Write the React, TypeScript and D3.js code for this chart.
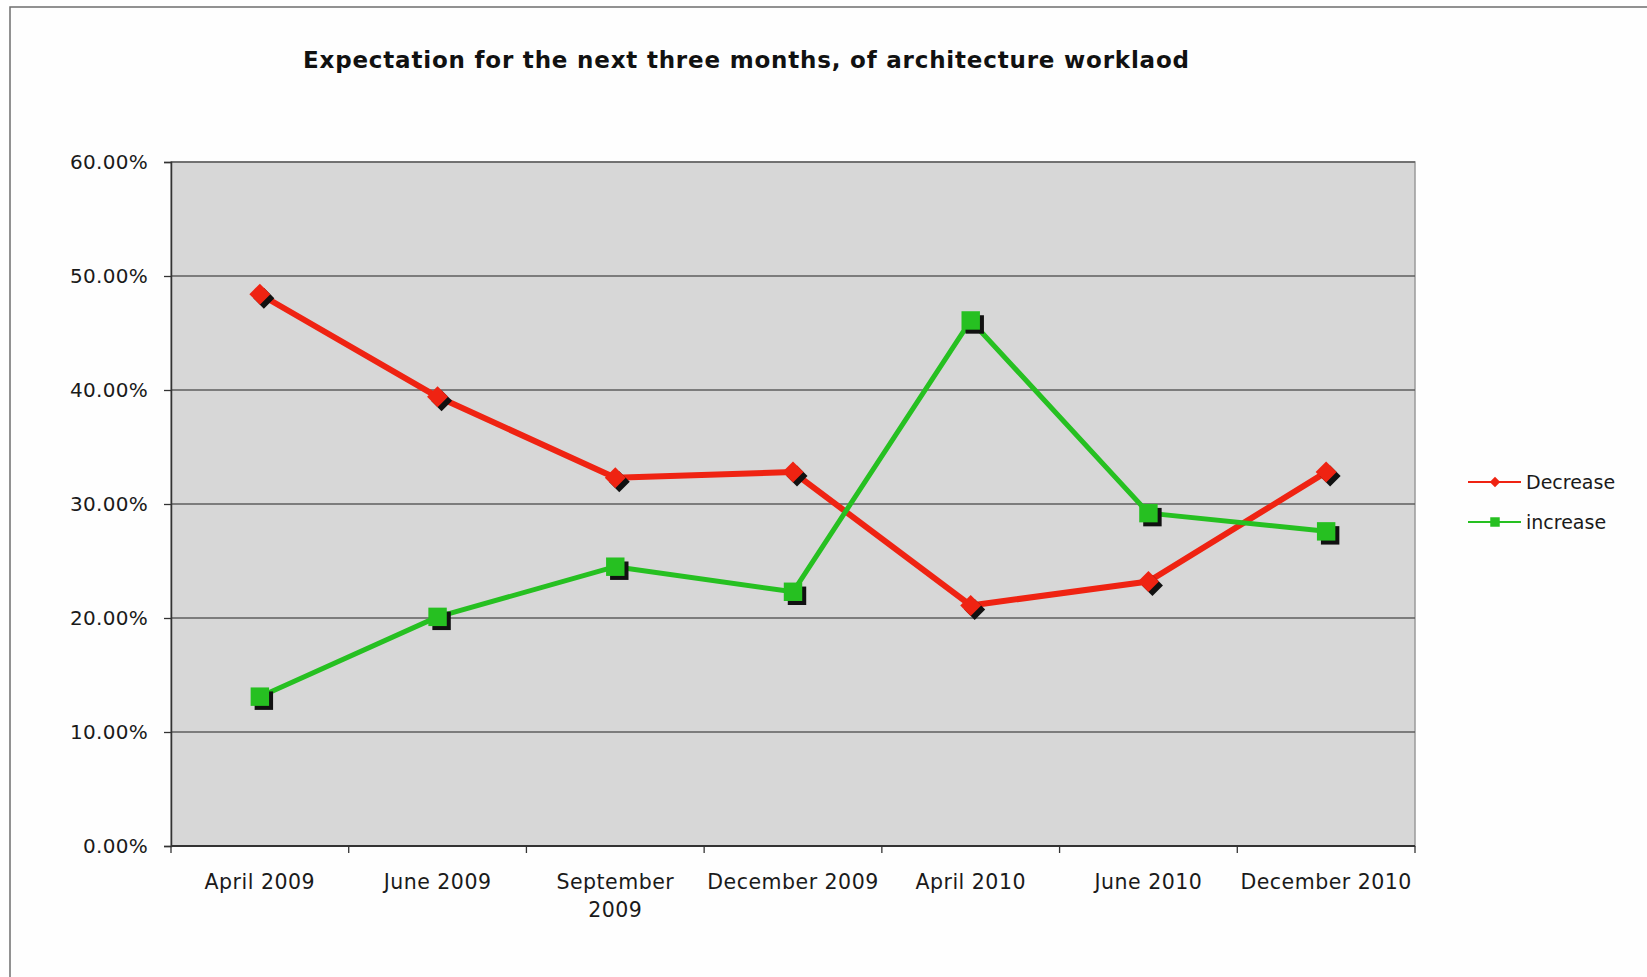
// @ts-nocheck
import React, { useEffect, useRef } from "react";
import * as d3 from "d3";

const categories = [
  "April 2009",
  "June 2009",
  "September 2009",
  "December 2009",
  "April 2010",
  "June 2010",
  "December 2010",
];
const tickLabels = [
  ["April 2009"],
  ["June 2009"],
  ["September", "2009"],
  ["December 2009"],
  ["April 2010"],
  ["June 2010"],
  ["December 2010"],
];
const decrease = [0.484, 0.394, 0.323, 0.328, 0.211, 0.232, 0.328];
const increase = [0.131, 0.201, 0.245, 0.223, 0.461, 0.292, 0.276];
const yTicks = [0, 0.1, 0.2, 0.3, 0.4, 0.5, 0.6];
const seriesNames = ["Decrease", "increase"];

const W = 1647;
const H = 977;
const FONT = "'DejaVu Sans', Verdana, sans-serif";
const RED = "#ef2312";
const GREEN = "#26c021";

function App() {
  const ref = useRef(null);

  useEffect(() => {
    const svg = d3.select(ref.current);
    svg.selectAll("*").remove();

    var margin = { top: 162, left: 171, right: W - 1415, bottom: H - 846 };

    // outer frame
    svg
      .append("rect")
      .attr("x", 10)
      .attr("y", 7)
      .attr("width", W + 20)
      .attr("height", H + 20)
      .attr("fill", "#fefefe")
      .attr("stroke", "#6f6f6f")
      .attr("stroke-width", 1.5);

    // title
    svg
      .append("text")
      .attr("x", 746)
      .attr("y", 68)
      .attr("text-anchor", "middle")
      .attr("textLength", 886)
      .attr("lengthAdjust", "spacing")
      .style("font-family", FONT)
      .style("font-size", "23px")
      .style("font-weight", "bold")
      .attr("fill", "#111")
      .text("Expectation for the next three months, of architecture worklaod");

    var x = d3
      .scaleBand()
      .domain(categories)
      .range([margin.left, W - margin.right]);
    var y = d3
      .scaleLinear()
      .domain([0, 0.6])
      .range([H - margin.bottom, margin.top]);

    // plot background
    svg
      .append("rect")
      .attr("x", margin.left)
      .attr("y", margin.top)
      .attr("width", W - margin.right - margin.left)
      .attr("height", y(0) - y(0.6))
      .attr("fill", "#d7d7d7")
      .attr("stroke", "#9a9a9a")
      .attr("stroke-width", 1.5);

    // grid lines
    svg
      .selectAll(".grid")
      .data(yTicks.slice(1))
      .enter()
      .append("line")
      .attr("x1", margin.left)
      .attr("x2", W - margin.right)
      .attr("y1", (d) => y(d))
      .attr("y2", (d) => y(d))
      .attr("stroke", "#5e5e5e")
      .attr("stroke-width", 1.3);

    // y axis
    var yAxis = svg
      .append("g")
      .attr("transform", "translate(" + margin.left + ",0)")
      .call(
        d3
          .axisLeft(y)
          .tickValues(yTicks)
          .tickSize(7)
          .tickPadding(16)
          .tickFormat((d) => (d * 100).toFixed(2) + "%")
      );
    yAxis.select(".domain").attr("stroke", "#333").attr("stroke-width", 1.5);
    yAxis.selectAll(".tick line").attr("stroke", "#333").attr("stroke-width", 1.3);
    yAxis
      .selectAll("text")
      .style("font-family", FONT)
      .style("font-size", "20px")
      .style("letter-spacing", "0.3px")
      .attr("fill", "#1a1a1a");

    // x axis line + ticks on band edges
    var base = y(0);
    svg
      .append("line")
      .attr("x1", margin.left)
      .attr("x2", W - margin.right)
      .attr("y1", base)
      .attr("y2", base)
      .attr("stroke", "#333")
      .attr("stroke-width", 2);
    var edges = categories.map((c) => x(c)).concat([W - margin.right]);
    svg
      .selectAll(".xtick")
      .data(edges)
      .enter()
      .append("line")
      .attr("x1", (d) => d)
      .attr("x2", (d) => d)
      .attr("y1", base)
      .attr("y2", base + 7)
      .attr("stroke", "#333")
      .attr("stroke-width", 1.3);

    var xl = svg
      .selectAll(".xlabel")
      .data(categories)
      .enter()
      .append("text")
      .attr("x", (d) => x(d) + x.bandwidth() / 2)
      .attr("y", base + 43)
      .attr("text-anchor", "middle")
      .style("font-family", FONT)
      .style("font-size", "20.5px")
      .style("letter-spacing", "0.5px")
      .attr("fill", "#1a1a1a");
    xl.each(function (d, i) {
      var t = d3.select(this);
      tickLabels[i].forEach((ln, j) => {
        t.append("tspan")
          .attr("x", x(d) + x.bandwidth() / 2)
          .attr("dy", j === 0 ? 0 : 28)
          .text(ln);
      });
    });

    var cx = (i) => x(categories[i]) + x.bandwidth() / 2;
    var line = d3
      .line()
      .x((d, i) => cx(i))
      .y((d) => y(d));

    var series = [
      { name: seriesNames[0], values: decrease, color: RED, width: 6, shape: "diamond" },
      { name: seriesNames[1], values: increase, color: GREEN, width: 5, shape: "square" },
    ];

    var diamond = d3.symbol().type(d3.symbolSquare).size(220)();
    var square = d3.symbol().type(d3.symbolSquare).size(340)();

    series.forEach((s) => {
      svg
        .append("path")
        .attr("d", line(s.values))
        .attr("fill", "none")
        .attr("stroke", s.color)
        .attr("stroke-width", s.width)
        .attr("stroke-linejoin", "round");

      var sym = s.shape === "diamond" ? diamond : square;
      var rot = s.shape === "diamond" ? " rotate(45)" : "";
      // shadow
      svg
        .selectAll(".sh-" + s.shape)
        .data(s.values)
        .enter()
        .append("path")
        .attr("d", sym)
        .attr("transform", (d, i) => "translate(" + (cx(i) + 4) + "," + (y(d) + 4) + ")" + rot)
        .attr("fill", "#111");
      svg
        .selectAll(".mk-" + s.shape)
        .data(s.values)
        .enter()
        .append("path")
        .attr("d", sym)
        .attr("transform", (d, i) => "translate(" + cx(i) + "," + y(d) + ")" + rot)
        .attr("fill", s.color);
    });

    // legend
    var legend = svg
      .selectAll(".legend")
      .data(series)
      .enter()
      .append("g")
      .attr("transform", (d, i) => "translate(1468," + (482 + i * 40) + ")");
    legend
      .append("line")
      .attr("x1", 0)
      .attr("x2", 53)
      .attr("stroke", (d) => d.color)
      .attr("stroke-width", 2.2);
    legend
      .append("path")
      .attr("d", (d) =>
        d.shape === "diamond"
          ? d3.symbol().type(d3.symbolSquare).size(55)()
          : d3.symbol().type(d3.symbolSquare).size(90)()
      )
      .attr("transform", (d) => "translate(27,0)" + (d.shape === "diamond" ? " rotate(45)" : ""))
      .attr("fill", (d) => d.color);
    legend
      .append("text")
      .attr("x", 58)
      .attr("y", 7)
      .style("font-family", FONT)
      .style("font-size", "19px")
      .attr("fill", "#1a1a1a")
      .text((d) => d.name);
  }, []);

  return (
    <svg
      ref={ref}
      width={W}
      height={H}
      style={{ position: "absolute", left: 0, top: 0, background: "#fff" }}
    />
  );
}

export default React.memo(App);
